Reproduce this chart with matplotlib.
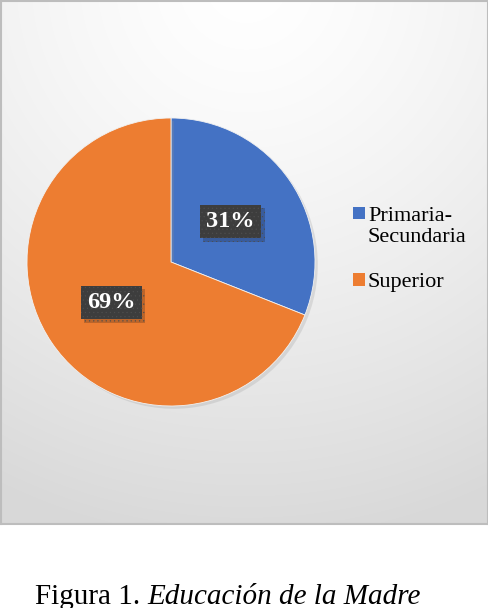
#!/usr/bin/env python3
"""
Figura 1. Educacion de la Madre - pie chart
"""
import numpy as np
import matplotlib
matplotlib.use('Agg')
import matplotlib.pyplot as plt
import matplotlib.patheffects as pe
from matplotlib.patches import Patch

# data
labels = ['Primaria-\nSecundaria', 'Superior']
values = [31, 69]
colors = ['#4472C4', '#ED7D31']
caption_a = 'Figura 1. '
caption_b = 'Educación de la Madre'

W, H = 489, 608
serif = ['Liberation Serif', 'DejaVu Serif']
plt.rcParams['font.family'] = serif
plt.rcParams['hatch.linewidth'] = 0.35

fig = plt.figure(figsize=(W / 100, H / 100), dpi=100)

def px(x0, y0, w, h):
    # pixel box (top-left origin) -> figure fraction
    return [x0 / W, 1 - (y0 + h) / H, w / W, h / H]

# chart area with gradient
bg = fig.add_axes(px(1.5, 1, 486.5, 523))
yy, xx = np.mgrid[0:523, 0:487]
d = np.hypot(xx - 245, yy + 20) / 560.0
d = np.clip(d, 0, 1)
g = 1.0 - 0.15 * d ** 1.4
bg.imshow(np.dstack([g, g, g]), aspect='auto', interpolation='bilinear',
          extent=(0, 1, 0, 1))
bg.set_xticks([])
bg.set_yticks([])
for s in bg.spines.values():
    s.set_color('#bdbdbd')
    s.set_linewidth(1.5)

# pie
r = 144
ax = fig.add_axes(px(171 - r, 262 - r, 2 * r, 2 * r))
wedges, texts, autotexts = ax.pie(
    values, colors=colors, startangle=90, counterclock=False,
    autopct='%1.0f%%', pctdistance=0.5,
    wedgeprops=dict(edgecolor='#f2f2f2', linewidth=0.6),
    textprops=dict(color='white', fontsize=17.5, fontweight='bold',
                   family=serif))
ax.set_xlim(-1, 1)
ax.set_ylim(-1, 1)
ax.set_aspect('auto')
ax.axis('off')
for w in wedges:
    w.set_path_effects([pe.SimplePatchShadow(offset=(2, -2), shadow_rgbFace='#999999',
                                             alpha=0.25), pe.Normal()])

for t in autotexts:
    t.set_bbox(dict(boxstyle='square,pad=0.26', facecolor='#3d3d3d',
                    edgecolor='#4e4e4e', linewidth=0, hatch='....'))
    t.get_bbox_patch().set_path_effects(
        [pe.SimplePatchShadow(offset=(2.5, -2.5), alpha=0.22), pe.Normal()])

# legend
handles = [Patch(facecolor=c, edgecolor='none') for c in colors]
leg = fig.legend(handles, labels, loc='upper left',
                 bbox_to_anchor=(353 / W, 1 - 207 / H), bbox_transform=fig.transFigure,
                 frameon=False, borderpad=0, borderaxespad=0,
                 handlelength=0.52, handleheight=0.52, handletextpad=0.15,
                 labelspacing=1.15, prop=dict(family=serif, size=16))
for t in leg.get_texts():
    t.set_linespacing(1.15)
# put the first square next to the first line of its label
h0 = leg.legend_handles[0]
h0.set_y(h0.get_y() + 9.5)

# caption
t1 = fig.text(35 / W, 4 / H, caption_a, fontsize=21, va='baseline', ha='left')
fig.canvas.draw()
bb = t1.get_window_extent(fig.canvas.get_renderer())
fig.text(bb.x1 / W, 4 / H, caption_b, fontsize=21, style='italic',
         va='baseline', ha='left')

fig.savefig('out.png', dpi=100)
